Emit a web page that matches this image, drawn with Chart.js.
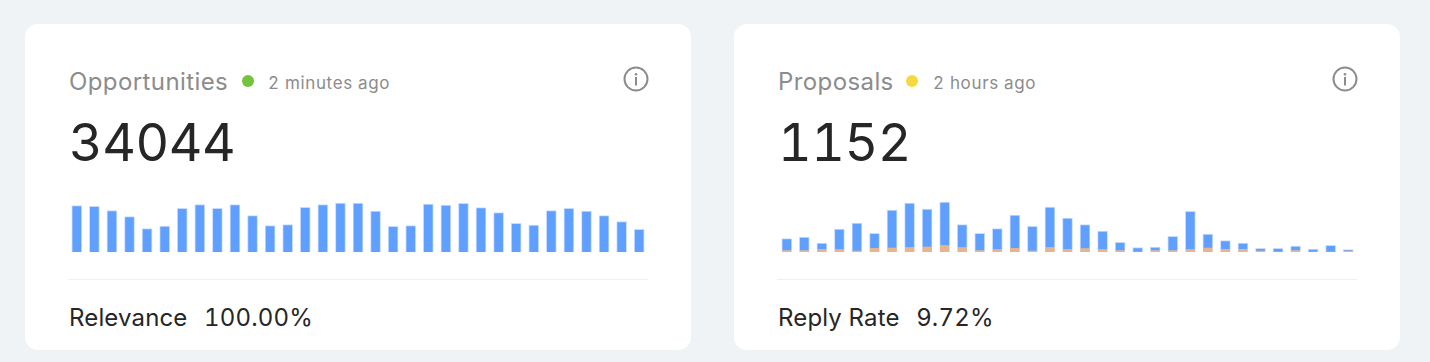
<!DOCTYPE html>
<html>
<head>
<meta charset="utf-8">
<title>Opportunities and proposals</title>
<script src="https://cdn.jsdelivr.net/npm/chart.js@4/dist/chart.umd.min.js"></script>
<style>
html, body { margin: 0; padding: 0; }
body { width: 1430px; height: 362px; background: #eff3f6; font-family: Inter, sans-serif; font-variant-numeric: tabular-nums; overflow: hidden; position: relative; }
.card { position: absolute; top: 24px; width: 666px; height: 326px; background: #fff; border-radius: 13px; }
.title { position: absolute; left: 44px; top: 43px; font-size: 24px; line-height: 30px; color: #8c8c8c; letter-spacing: 0.4px; white-space: nowrap; }
.dot { position: absolute; top: 51px; width: 12px; height: 12px; border-radius: 50%; }
.ago { position: absolute; top: 48px; font-size: 17px; line-height: 22px; color: #8c8c8c; letter-spacing: 0.65px; white-space: nowrap; }
.info { position: absolute; left: 598px; top: 42px; }
.total { position: absolute; left: 44px; top: 87px; font-size: 52px; line-height: 64px; letter-spacing: -0.5px; color: #262626; white-space: nowrap; }
.chart { position: absolute; left: 43px; top: 165px; }
.rule { position: absolute; left: 43px; top: 255px; width: 580px; height: 1px; background: #f0f0f0; }
.foot { position: absolute; left: 44px; top: 279px; font-size: 24px; line-height: 30px; letter-spacing: 0.15px; color: #262626; white-space: nowrap; }
.foot span { margin-left: 10px; }
</style>
</head>
<body>
<div class="card" style="left:25px">
  <div class="title">Opportunities</div>
  <div class="dot" style="left:217px;background:#72c43c"></div>
  <div class="ago" style="left:243px">2 minutes ago</div>
  <svg class="info" width="26" height="26" viewBox="0 0 26 26"><circle cx="13" cy="13" r="11.5" fill="none" stroke="#8c8c8c" stroke-width="2"/><circle cx="13" cy="8.2" r="1.3" fill="#8c8c8c"/><rect x="12" y="11" width="2" height="8.5" fill="#8c8c8c"/></svg>
  <div class="total">34044</div>
  <canvas class="chart" id="chartOpportunities" width="580" height="63"></canvas>
  <div class="rule"></div>
  <div class="foot">Relevance <span>100.00%</span></div>
</div>
<div class="card" style="left:734px">
  <div class="title">Proposals</div>
  <div class="dot" style="left:172px;background:#f6d93f"></div>
  <div class="ago" style="left:199px">2 hours ago</div>
  <svg class="info" width="26" height="26" viewBox="0 0 26 26"><circle cx="13" cy="13" r="11.5" fill="none" stroke="#8c8c8c" stroke-width="2"/><circle cx="13" cy="8.2" r="1.3" fill="#8c8c8c"/><rect x="12" y="11" width="2" height="8.5" fill="#8c8c8c"/></svg>
  <div class="total">1152</div>
  <canvas class="chart" id="chartProposals" style="left:44px" width="579" height="63"></canvas>
  <div class="rule"></div>
  <div class="foot">Reply Rate <span>9.72%</span></div>
</div>
<script>
// values
const opportunities = [46.3, 45.7, 41.3, 35.3, 23.3, 26, 43.7, 47.3, 43.7, 47.3, 36.3, 26.3, 27.3, 44.7, 47.3, 49, 49, 41, 25.7, 26.3, 48, 47, 48.7, 44.3, 39.3, 28.7, 27, 41.3, 43.7, 41, 36.3, 30.3, 22.7];
const proposalsReplied = [1.3, 1.3, 2.3, 2.3, 1, 3.7, 4, 4.3, 5, 6.3, 4.3, 1.3, 2.3, 3.7, 1, 4.3, 2.7, 3.3, 2.3, 1.3, 0, 1.3, 1.3, 2.3, 4, 2.7, 2.7, 1, 0, 1.3, 0, 0, 1];
const proposalsOther = [12, 13.7, 6.7, 20.7, 28, 15, 38, 44.7, 38, 43.7, 23, 17.3, 21, 33.3, 24.7, 40.7, 31.3, 24, 18.7, 8.3, 4.3, 3.7, 14.3, 38.3, 14, 8.7, 6.3, 2.7, 3.7, 4.7, 3, 6.7, 1.3];
const yMax = 63;

function labelsFor(values) {
    return values.map((v, i) => String(i + 1));
}

function options(stacked) {
    return {
        responsive: false,
        animation: false,
        maintainAspectRatio: false,
        layout: { padding: 0 },
        plugins: { legend: { display: false }, tooltip: { enabled: false } },
        scales: {
            x: { display: false, stacked: stacked },
            y: { display: false, stacked: stacked, min: 0, max: yMax }
        }
    };
}

new Chart(document.getElementById('chartOpportunities'), {
    type: 'bar',
    data: {
        labels: labelsFor(opportunities),
        datasets: [{
            data: opportunities,
            backgroundColor: '#5f9fff',
            borderColor: '#c6dcff',
            borderWidth: 1,
            barThickness: 10
        }]
    },
    options: options(false)
});

new Chart(document.getElementById('chartProposals'), {
    type: 'bar',
    data: {
        labels: labelsFor(proposalsOther),
        datasets: [{
            data: proposalsReplied,
            backgroundColor: '#e6b48f',
            borderWidth: 0,
            barThickness: 9
        }, {
            data: proposalsOther,
            backgroundColor: '#5f9fff',
            borderColor: '#c6dcff',
            borderWidth: 1,
            barThickness: 10
        }]
    },
    options: options(true)
});
</script>
</body>
</html>
